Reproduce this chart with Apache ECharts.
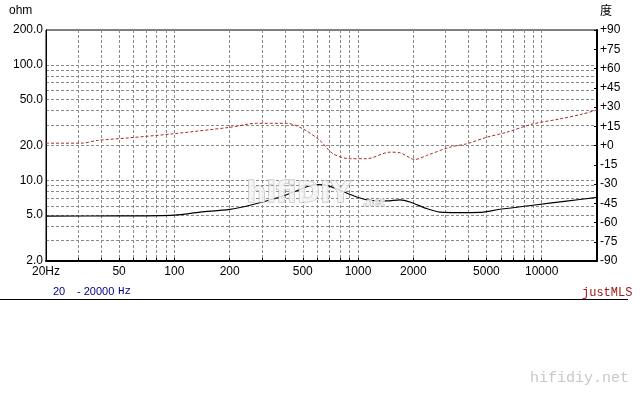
<!DOCTYPE html>
<html><head><meta charset="utf-8">
<script src="https://cdn.jsdelivr.net/npm/echarts@6/dist/echarts.min.js"></script>
<style>html,body{margin:0;padding:0;background:#fff}#c{width:640px;height:400px}</style>
</head><body><div id="c"></div>
<script>
// Impedance magnitude (ohm) vs frequency (Hz)
const impFreq = [20, 50, 100, 138, 200, 258, 376, 483, 547, 610, 675, 797, 982, 1161, 1432, 1692, 1916, 2361, 2792, 3500, 4600, 5920, 8950, 13640, 20000];
const impOhm  = [4.9, 4.92, 5.0, 5.3, 5.6, 6.08, 7.17, 8.3, 9.0, 9.15, 9.04, 8.19, 7.17, 6.71, 6.62, 6.77, 6.49, 5.69, 5.3, 5.25, 5.27, 5.61, 6.08, 6.6, 7.1];
// Phase (degrees) vs frequency (Hz)
const phaseFreq = [20, 31, 38, 57, 98, 201, 281, 408, 501, 620, 730, 904, 1114, 1492, 1692, 2041, 2361, 3163, 3900, 5012, 6440, 8954, 12560, 16760, 20000];
const phaseDeg  = [1.8, 1.8, 3.9, 6.0, 9.1, 14.2, 17.3, 17.3, 13.0, 3.9, -6.4, -10.3, -10.3, -5.2, -5.7, -10.9, -7.8, -1.3, 1.3, 6.4, 10.3, 16.8, 20.7, 24.6, 27.7];
// Axis ticks / labels
const freqLabels = [20, 50, 100, 200, 500, 1000, 2000, 5000, 10000];
const freqGrid = [30,40,50,60,70,80,90,100,200,300,400,500,600,700,800,900,1000,2000,3000,4000,5000,6000,7000,8000,9000,10000];
const ohmLabels = [2, 5, 10, 20, 50, 100, 200];
const ohmGrid = [3,4,5,6,7,8,9,10,20,30,40,50,60,70,80,90,100];

const FONT = 'Liberation Sans';
const gridLine = {show:true, lineStyle:{color:'#8a8a8a', width:1, type:[3,2]}};
const chart = echarts.init(document.getElementById('c'), null, {renderer:'canvas'});
chart.setOption({
  animation:false,
  backgroundColor:'#fff',
  grid:{left:46, right:43, top:30, bottom:139, show:true, borderColor:'#000', borderWidth:1, backgroundColor:'transparent'},
  xAxis:{
    type:'log', logBase:10, min:20, max:20000,
    axisLine:{show:true, onZero:false, lineStyle:{color:'#000', width:2}},
    axisTick:{show:true, inside:true, length:3, customValues:freqGrid, lineStyle:{color:'#000'}},
    axisLabel:{customValues:freqLabels, color:'#000', fontSize:12, fontFamily:FONT, margin:5,
      formatter:v => (v === 20 ? '20Hz' : String(v))},
    splitLine:gridLine
  },
  yAxis:[
    {type:'log', logBase:10, min:2, max:200, position:'left',
     axisLine:{show:true, lineStyle:{color:'#000', width:1}},
     axisTick:{show:false, customValues:ohmGrid},
     axisLabel:{customValues:ohmLabels, color:'#000', fontSize:12, fontFamily:FONT, margin:3,
       formatter:v => Number(v).toFixed(1)},
     splitLine:gridLine},
    {type:'value', min:-90, max:90, interval:15, position:'right',
     axisLine:{show:true, lineStyle:{color:'#000', width:2}},
     axisTick:{show:true, inside:true, length:3, lineStyle:{color:'#000'}},
     axisLabel:{color:'#000', fontSize:12, fontFamily:FONT, margin:3,
       formatter:v => (v >= 0 ? '+' + v : String(v))},
     splitLine:{show:false}}
  ],
  series:[
    {type:'line', yAxisIndex:0, data:impFreq.map((f,i)=>[f, impOhm[i]]), showSymbol:false, smooth:0.3,
     lineStyle:{color:'#000', width:1.2}, z:3},
    {type:'line', yAxisIndex:1, data:phaseFreq.map((f,i)=>[f, phaseDeg[i]]), showSymbol:false, smooth:0.3,
     lineStyle:{color:'#b02828', width:1, type:[3,2]}, z:3}
  ],
  graphic:[
    {type:'text', left:9, top:5, style:{text:'ohm', font:'12px '+FONT, fill:'#000'}},
    {type:'text', left:600, top:4, style:{text:'度', font:'12px "Noto Sans CJK SC"', fill:'#000'}},
    {type:'text', left:53, top:286, style:{text:'20', font:'11px '+FONT, fill:'#000080'}},
    {type:'text', left:77, top:286, style:{text:'- 20000', font:'11px '+FONT, fill:'#000080'}},
    {type:'text', left:118, top:286, style:{text:'Hz', font:'11px "Liberation Mono"', fill:'#000080'}},
    {type:'text', left:582, top:287, style:{text:'justMLS', font:'12px "Liberation Mono"', fill:'#a01818'}},
    {type:'line', shape:{x1:0, y1:299.5, x2:628, y2:299.5}, style:{stroke:'#000', lineWidth:1}},
    {type:'text', left:530, top:371, style:{text:'hifidiy.net', font:'15px "Liberation Mono"', fill:'#c8c8c8'}},
    {type:'text', left:246, top:180, z:10, style:{text:'hifiDIY', font:'bold 28px "DejaVu Sans"', fill:'rgba(245,245,245,0.85)',
      stroke:'#b4b4b4', lineWidth:1, shadowBlur:3, shadowOffsetX:2, shadowOffsetY:2, shadowColor:'rgba(0,0,0,0.25)'}},
    {type:'text', left:362, top:198, z:10, style:{text:'.net', font:'bold 10px "DejaVu Sans"', fill:'rgba(245,245,245,0.85)',
      stroke:'#b4b4b4', lineWidth:0.8}}
  ]
});
</script></body></html>
